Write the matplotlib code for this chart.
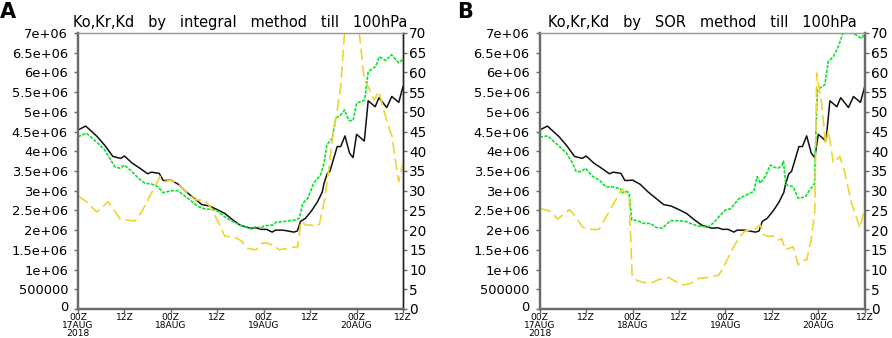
import numpy as np
import matplotlib
matplotlib.use('Agg')
import matplotlib.pyplot as plt
import matplotlib.transforms as mtransforms

# hours since 00Z 17AUG2018
# black line: same in both panels (left axis, units of 1e6)
black_h = [0, 2, 5, 7, 9, 11, 12, 14, 16, 18, 19, 21, 22, 23, 24, 26, 28, 30, 32, 34,
           36, 38, 40, 42, 44.5, 46, 47.3, 48.7, 50.2, 51, 53, 55.8, 56.7, 57.5, 58.8,
           60.5, 61.9, 63.1, 63.6, 64.4, 65.1, 67, 67.9, 69, 70.2, 71.1, 72, 74, 75,
           76.8, 77.8, 79.8, 81.1, 82.9, 84]
black_v = [4.54, 4.64, 4.37, 4.14, 3.87, 3.82, 3.88, 3.70, 3.57, 3.43, 3.47, 3.44, 3.26,
           3.26, 3.27, 3.16, 2.97, 2.81, 2.65, 2.61, 2.52, 2.42, 2.26, 2.12, 2.05, 2.06,
           2.02, 2.02, 1.95, 2.0, 2.0, 1.95, 1.98, 2.22, 2.30, 2.51, 2.72, 2.96, 3.19,
           3.43, 3.49, 4.12, 4.12, 4.39, 3.95, 3.84, 4.43, 4.26, 5.28, 5.13, 5.36, 5.11,
           5.39, 5.24, 5.64]

# panel A (integral method)
green_a_h = [0, 2.2, 5.2, 6.9, 8.7, 9.6, 10.9, 12, 13.9, 15.6, 17.3, 19, 20.7, 22, 24.1,
             25.8, 28.4, 31, 32.7, 35.7, 37.9, 40.5, 42.4, 44.7, 46, 47.3, 48.1, 50.3,
             51.2, 53.3, 56.3, 57.2, 58.1, 59.4, 60.9, 62.7, 63.6, 64.3, 65.7, 66.6,
             67.9, 68.9, 70, 71.1, 72, 74.1, 75, 76.9, 77.9, 79.5, 81, 82.9, 84]
green_a_v = [4.37, 4.46, 4.20, 4.03, 3.74, 3.60, 3.57, 3.65, 3.49, 3.32, 3.19, 3.17, 3.10,
             2.95, 3.0, 3.0, 2.81, 2.60, 2.54, 2.51, 2.34, 2.19, 2.11, 2.03, 2.09, 2.05,
             2.11, 2.13, 2.20, 2.22, 2.26, 2.30, 2.68, 2.81, 3.19, 3.40, 3.70, 4.16, 4.33,
             4.84, 4.92, 5.05, 4.78, 4.78, 5.22, 5.30, 6.02, 6.15, 6.40, 6.30, 6.45, 6.24,
             6.34]
yellow_a_h = [0, 2.2, 4.8, 7.8, 10.9, 14.7, 16.5, 21.2, 22.4, 24.1, 25.8, 28.4, 30.2,
              32.7, 34.4, 36.2, 37.9, 40.5, 42.2, 43.8, 46, 47.7, 49, 50.7, 52, 54.2,
              56.8, 57.6, 58.9, 60.2, 61.5, 62.4, 63.6, 64.9, 65.7, 67, 67.9, 68.8,
              70.7, 72.7, 74, 75.2, 76.5, 77.8, 79, 80.4, 81.2, 82, 82.9, 84]
yellow_a_v = [28.7, 27.2, 24.6, 27.2, 22.8, 22.3, 24.7, 33.6, 32.3, 32.7, 31.7, 29.4,
              27.7, 27.6, 25.6, 22.2, 18.5, 18.2, 17.3, 15.4, 15.0, 16.7, 16.7, 16.0,
              15.0, 15.4, 15.8, 22.2, 21.3, 21.3, 20.9, 21.5, 27.0, 36.0, 43.0, 50.5,
              56.4, 69.0, 82.0, 70.0, 58.1, 56.0, 53.0, 55.2, 50.5, 45.9, 43.7, 37.8,
              32.3, 37.0]

# panel B (SOR method)
green_b_h = [0, 2.1, 5.1, 6.8, 8.5, 9.4, 10.7, 11.8, 13.7, 15.4, 17.1, 18.9, 21, 21.3,
             22.2, 23.1, 23.8, 25.2, 27, 28.7, 30, 31.7, 33.8, 35.6, 37.7, 39, 40.7,
             42.5, 43.7, 45, 46.3, 48, 49.3, 51.4, 53.1, 55.3, 56.2, 57, 58.3, 59.6,
             60.5, 61.6, 62.6, 63, 63.6, 65.5, 66.8, 68.6, 69.8, 71, 71.4, 71.8, 73.7,
             74.6, 75.9, 77.2, 78.4, 81, 83.2, 84]
green_b_v = [4.36, 4.39, 4.12, 3.97, 3.70, 3.49, 3.48, 3.57, 3.36, 3.27, 3.10, 3.10, 3.04,
             2.94, 3.0, 2.94, 2.26, 2.24, 2.17, 2.17, 2.07, 2.05, 2.24, 2.24, 2.22, 2.17,
             2.11, 2.09, 2.09, 2.19, 2.34, 2.51, 2.54, 2.79, 2.88, 2.98, 3.36, 3.19, 3.36,
             3.65, 3.60, 3.57, 3.65, 3.75, 3.15, 3.10, 2.81, 2.84, 3.02, 3.17, 4.54, 5.56,
             5.69, 6.28, 6.40, 6.66, 7.0, 7.0, 6.86, 7.0]
yellow_b_h = [0, 2.9, 4.6, 7.7, 8.9, 11.1, 14.1, 15.4, 21, 21.3, 22.2, 23.1, 23.9, 25.2,
              27, 28.7, 30.8, 33.4, 35.6, 37.3, 39, 41.2, 43.7, 46.3, 48, 49.7, 51.4,
              53.1, 55.7, 57, 57.9, 59.2, 60.5, 61.8, 62.6, 63.5, 65.5, 66.8, 68.1, 69,
              70.3, 71.1, 71.6, 72.9, 73.9, 74.6, 75.9, 77.6, 78.9, 80.6, 82.8, 84]
yellow_b_v = [25.6, 24.7, 22.8, 25.2, 23.9, 20.7, 20.1, 20.3, 30.0, 30.4, 29.4, 28.5, 8.2,
              7.2, 6.7, 6.5, 7.5, 8.0, 6.7, 6.1, 6.5, 7.8, 8.0, 8.6, 11.6, 15.0, 17.9,
              19.8, 20.3, 21.3, 18.8, 18.4, 18.5, 17.5, 17.8, 15.0, 15.8, 11.2, 12.4,
              12.4, 18.4, 25.1, 59.8, 51.8, 41.6, 45.4, 37.0, 38.7, 34.4, 26.8, 20.5, 26.0]

titles = ['Ko,Kr,Kd   by   integral   method   till   100hPa',
          'Ko,Kr,Kd   by   SOR   method   till   100hPa']
letters = ['A', 'B']
x_ticks = [0, 12, 24, 36, 48, 60, 72, 84]
x_labels = ['00Z\n17AUG\n2018', '12Z', '00Z\n18AUG', '12Z', '00Z\n19AUG', '12Z',
            '00Z\n20AUG', '12Z']
left_ticks = [i * 5e5 for i in range(15)]
left_labels = ['0', '500000', '1e+06', '1.5e+06', '2e+06', '2.5e+06', '3e+06', '3.5e+06',
               '4e+06', '4.5e+06', '5e+06', '5.5e+06', '6e+06', '6.5e+06', '7e+06']
right_ticks = list(range(0, 71, 5))

panels = [
    (black_h, black_v, green_a_h, green_a_v, yellow_a_h, yellow_a_v),
    (black_h, black_v, green_b_h, green_b_v, yellow_b_h, yellow_b_v),
]

fig = plt.figure(figsize=(8.92, 3.38), dpi=100)
lefts = [78 / 892, 539.7 / 892]
W = 325 / 892
B = 29 / 338
H = 276 / 338
axis_gray = '#6a6a6a'

for i, (bh, bv, gh, gv, yh, yv) in enumerate(panels):
    ax = fig.add_axes([lefts[i], B, W, H])
    ax.plot(bh, np.array(bv) * 1e6, color='#111111', lw=1.1)
    ax.plot(gh, np.array(gv) * 1e6, color='#10e030', lw=1.2, ls=(0, (2, 0.8)))
    ax.set_xlim(0, 84)
    ax.set_ylim(0, 7e6)
    ax.set_xticks(x_ticks)
    ax.set_xticklabels(x_labels, fontsize=6.6, linespacing=0.8)
    ax.set_yticks(left_ticks)
    ax.set_yticklabels(left_labels, fontsize=9.4)
    ax.tick_params(axis='both', direction='out', length=3, width=1, color=axis_gray)
    ax.tick_params(axis='y', pad=4.2)
    ax.tick_params(axis='x', pad=0.2)
    ax.set_title(titles[i], fontsize=10.5, pad=4)
    # nudge the bottom "0" up a little so it clears the date label below it
    zero_lbl = ax.get_yticklabels()[0]
    zero_lbl.set_transform(zero_lbl.get_transform()
                           + mtransforms.ScaledTranslation(0, 2.5 / 72, fig.dpi_scale_trans))

    ax2 = ax.twinx()
    ax2.plot(yh, yv, color='#ecd532', lw=1.2, ls=(0, (7, 3)))
    ax2.set_ylim(0, 70)
    ax2.set_yticks(right_ticks)
    ax2.set_yticklabels([str(t) for t in right_ticks], fontsize=9.8)
    ax2.tick_params(axis='y', direction='out', length=3, width=1, color=axis_gray, pad=1.5)

    for a in (ax, ax2):
        a.spines['left'].set_color(axis_gray)
        a.spines['left'].set_linewidth(1.6)
        a.spines['bottom'].set_color(axis_gray)
        a.spines['bottom'].set_linewidth(1.6)
        a.spines['top'].set_color('#999999')
        a.spines['top'].set_linewidth(0.9)
        a.spines['right'].set_color('#222222' if i == 0 else axis_gray)
        a.spines['right'].set_linewidth(1.0 if i == 0 else 1.6)

fig.text(0.0, 0.995, letters[0], fontsize=15, fontweight='bold', ha='left', va='top')
fig.text(457 / 892, 0.995, letters[1], fontsize=15, fontweight='bold', ha='left', va='top')

fig.savefig('out.png', dpi=100)
